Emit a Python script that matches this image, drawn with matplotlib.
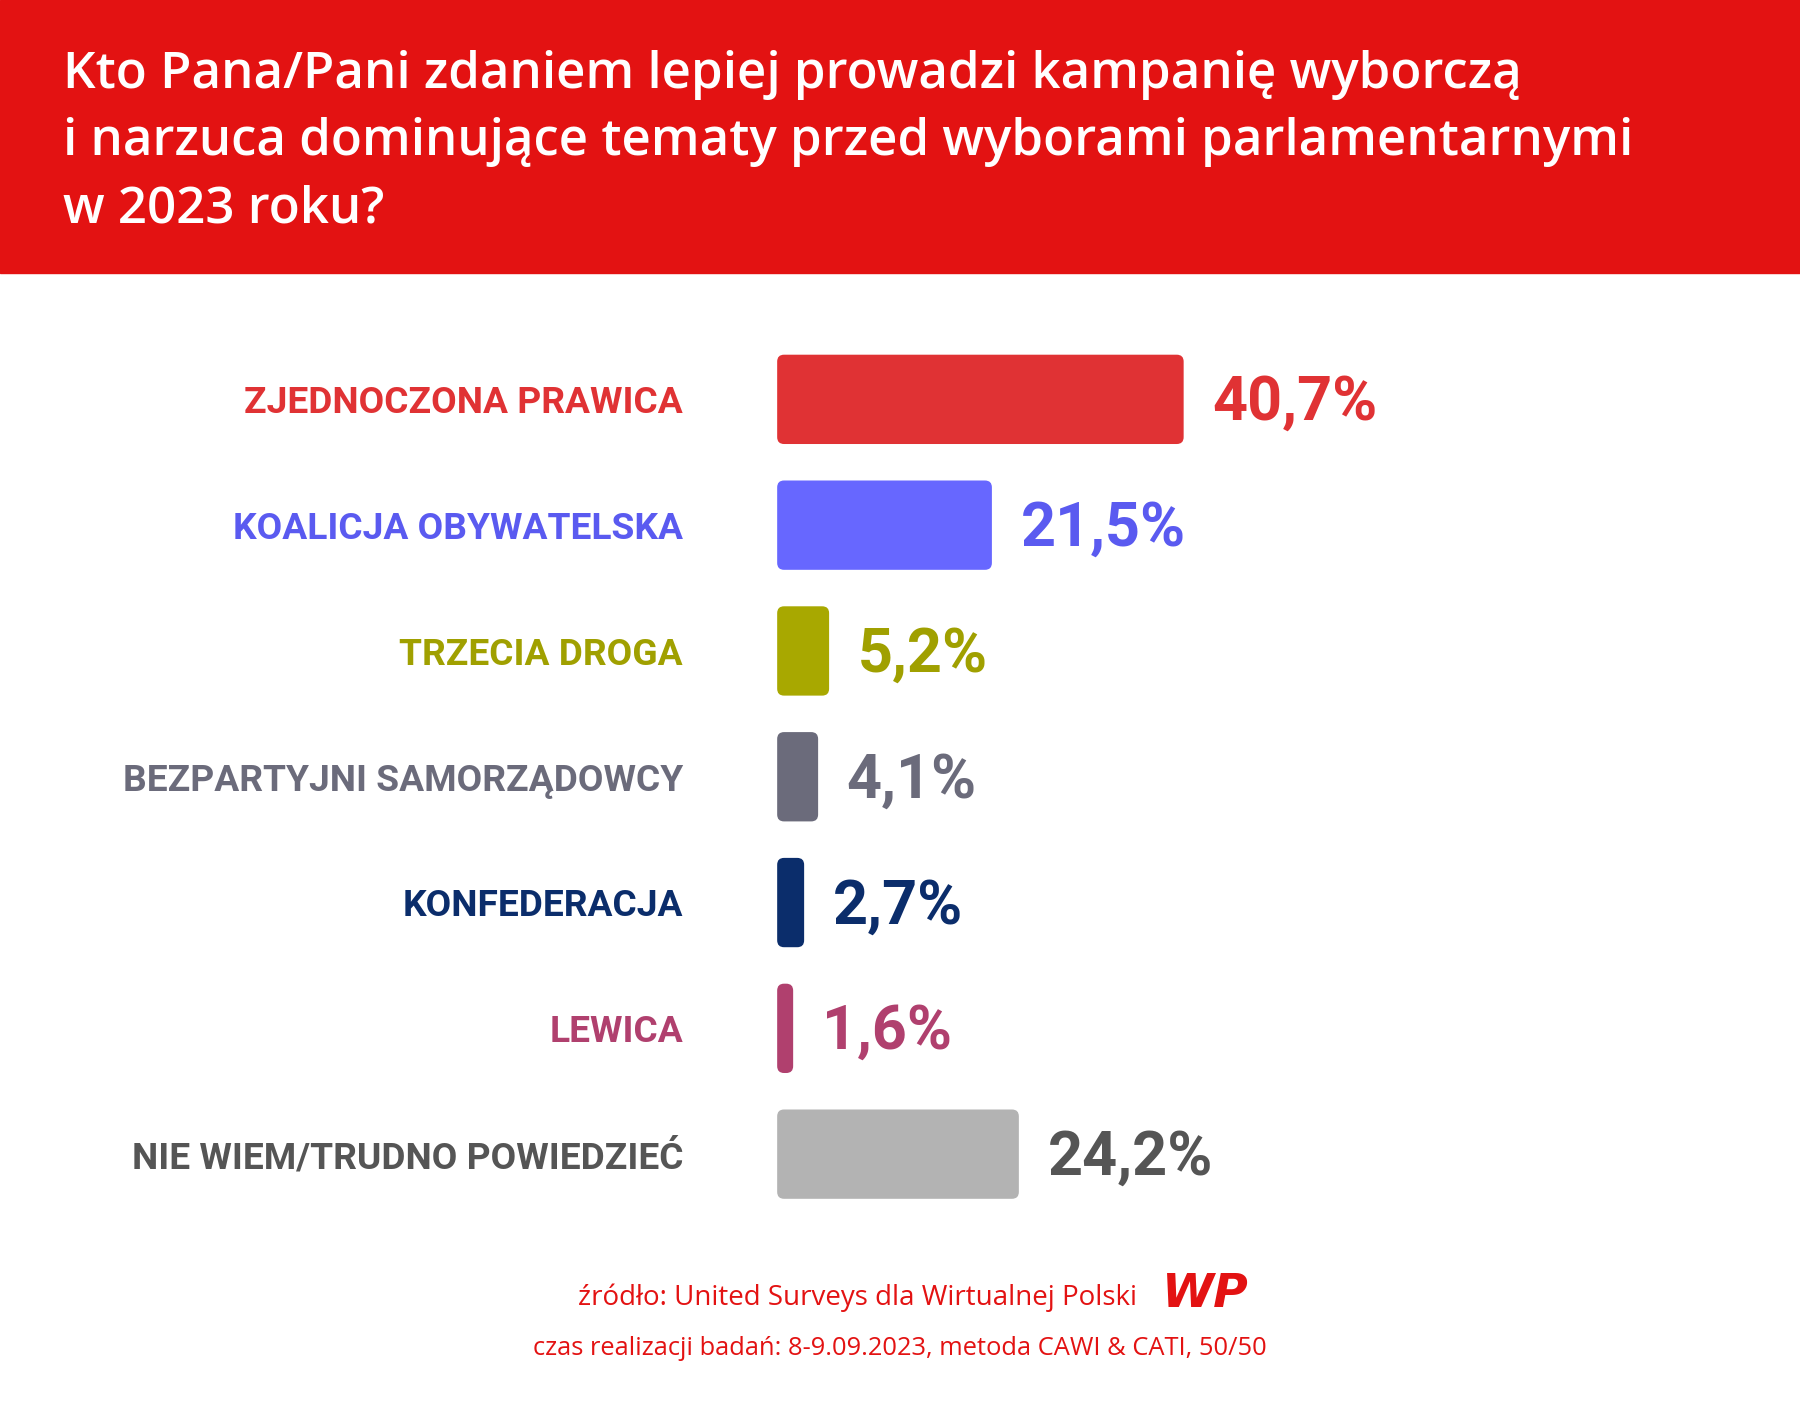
import matplotlib
matplotlib.use("Agg")
import matplotlib.pyplot as plt
from matplotlib.patches import FancyBboxPatch, Rectangle

categories = ["ZJEDNOCZONA PRAWICA", "KOALICJA OBYWATELSKA", "TRZECIA DROGA",
              "BEZPARTYJNI SAMORZĄDOWCY", "KONFEDERACJA", "LEWICA",
              "NIE WIEM/TRUDNO POWIEDZIEĆ"]
values = [40.7, 21.5, 5.2, 4.1, 2.7, 1.6, 24.2]
value_labels = ["40,7%", "21,5%", "5,2%", "4,1%", "2,7%", "1,6%", "24,2%"]
bar_colors = ["#E03234", "#6767FF", "#A8A800", "#6B6B7B", "#0B2D6B", "#B0406E", "#B3B3B3"]
text_colors = ["#E03234", "#5A5AF0", "#A0A000", "#6B6B7B", "#0B2D6B", "#B0406E", "#555555"]

W, H = 1568, 1242
fig = plt.figure(figsize=(18, 14.25), dpi=100)
fig.patch.set_facecolor("white")
fx = lambda px: px / W
fy = lambda py: 1 - py / H

# header
fig.patches.append(Rectangle((0, fy(238)), 1, 238 / H, transform=fig.transFigure,
                             color="#E31212", zorder=0))
for i, line in enumerate(["Kto Pana/Pani zdaniem lepiej prowadzi kampanię wyborczą",
                          "i narzuca dominujące tematy przed wyborami parlamentarnymi",
                          "w 2023 roku?"]):
    fig.text(fx(55), fy(65 + 59 * i), line, color="white", fontsize=36.7,
             family="Open Sans", fontweight="semibold", va="center", ha="left")

# bars axes
x0, x1 = 677, W
ytop, ybot = 348 - 54.75, 1006 + 54.75
ax = fig.add_axes([fx(x0), fy(ybot), fx(x1) - fx(x0), (ybot - ytop) / H])
ppu = 8.7
ax.set_xlim(0, (x1 - x0) / ppu)
ax.set_ylim(len(values) - 0.5, -0.5)
ax.axis("off")
bh = 0.71
rx = 6 / ppu
ry = 6 / 109.7
for i, (v, c) in enumerate(zip(values, bar_colors)):
    p = FancyBboxPatch((0, i - bh / 2), v, bh,
                       boxstyle=f"round,pad=0,rounding_size={min(rx, v/2)}",
                       mutation_aspect=ry / rx, fc=c, ec="none")
    ax.add_patch(p)
    ax.text(v + 25 / ppu, i + 0.03, value_labels[i], color=text_colors[i], fontsize=44,
            family="Roboto", fontweight="bold", va="center", ha="left")
    ax.text(-82 / ppu, i + 0.03, categories[i], color=text_colors[i], fontsize=26.7,
            family="Roboto", fontweight="bold", va="center", ha="right", clip_on=False)

# footer
fig.text(fx(747), fy(1131), "źródło: United Surveys dla Wirtualnej Polski", color="#E31212",
         fontsize=20, family="Open Sans", ha="center", va="center")
fig.text(fx(1050), fy(1128), "WP", color="#E31212", fontsize=34, family="DejaVu Sans",
         fontweight="bold", style="italic", ha="center", va="center")
fig.text(fx(784), fy(1175), "czas realizacji badań: 8-9.09.2023, metoda CAWI & CATI, 50/50",
         color="#E31212", fontsize=18.4, family="Open Sans", ha="center", va="center")

fig.savefig("out.png", dpi=100, facecolor="white")
